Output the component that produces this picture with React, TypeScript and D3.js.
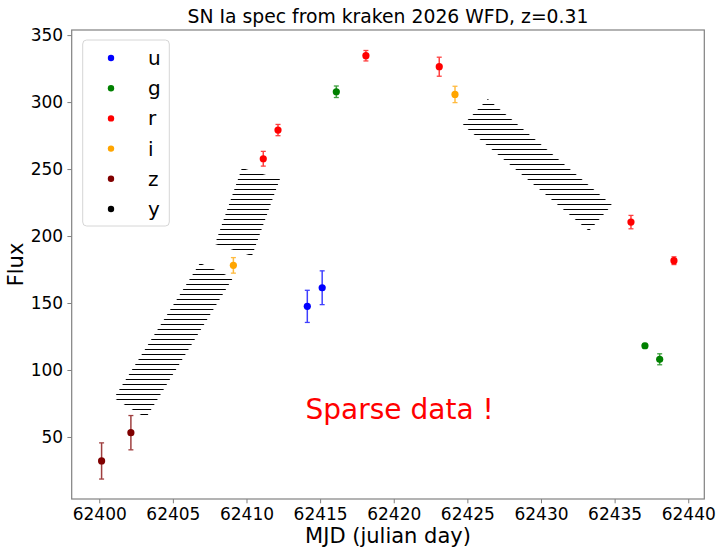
import { useEffect, useRef } from "react";
import * as d3 from "d3";

// photometry points per band (MJD, flux, 1-sigma error)
const uMjd = [62414.13, 62415.14];
const uFlux = [147.5, 161.4];
const uErr = [12.0, 12.6];

const gMjd = [62416.1, 62437.06, 62438.06];
const gFlux = [307.7, 118.1, 108.0];
const gErr = [4.3, 1.7, 4.1];

const rMjd = [62411.14, 62412.14, 62418.11, 62423.09, 62436.11, 62439.03];
const rFlux = [257.7, 279.1, 334.6, 326.4, 210.4, 181.6];
const rErr = [5.5, 4.2, 3.9, 7.1, 5.0, 2.9];

const iMjd = [62409.11, 62424.16];
const iFlux = [178.1, 305.7];
const iErr = [5.8, 6.1];

const zMjd = [62400.16, 62402.15];
const zFlux = [32.1, 53.2];
const zErr = [13.5, 12.8];

const yMjd: number[] = [];
const yFlux: number[] = [];
const yErr: number[] = [];

const bandNames = ["u", "g", "r", "i", "z", "y"];
const bandColors = ["#0000ff", "#008000", "#ff0000", "#ffa500", "#800000", "#000000"];

// hatched spectroscopy windows, vertices as [mjd, flux]
const specWindow1: [number, number][] = [
	[62406.84, 179.9],
	[62409.08, 168.7],
	[62403.17, 64.2],
	[62401.0, 79.1],
];
const specWindow2: [number, number][] = [
	[62409.69, 250.7],
	[62412.27, 242.5],
	[62410.37, 185.1],
	[62407.86, 194.0],
];
const specWindow3: [number, number][] = [
	[62426.39, 302.2],
	[62434.82, 223.1],
	[62433.26, 203.7],
	[62424.69, 282.8],
];

const xTicks = [62400, 62405, 62410, 62415, 62420, 62425, 62430, 62435, 62440];
const yTicks = [50, 100, 150, 200, 250, 300, 350];

const W = 719;
const H = 549;
const FONT = "DejaVu Sans";

export default function App() {
	const svgRef = useRef<SVGSVGElement>(null);

	useEffect(() => {
		if (!svgRef.current) return;
		const svg = d3.select(svgRef.current);
		svg.selectAll("*").remove();

		const margin = { top: 30, right: 14.7, bottom: 50, left: 71.7 };
		const x = d3
			.scaleLinear()
			.domain([62398.13, 62441.09])
			.range([margin.left, W - margin.right]);
		const y = d3
			.scaleLinear()
			.domain([3.7, 353.8])
			.range([H - margin.bottom, margin.top]);

		const defs = svg.append("defs");
		const pattern = defs
			.append("pattern")
			.attr("id", "hatch")
			.attr("patternUnits", "userSpaceOnUse")
			.attr("width", 10)
			.attr("height", 5);
		pattern
			.append("line")
			.attr("x1", 0)
			.attr("x2", 10)
			.attr("y1", 4.5)
			.attr("y2", 4.5)
			.attr("stroke", "#000")
			.attr("stroke-width", 1);

		// hatched windows
		const polyLine = d3
			.line<[number, number]>()
			.x((d) => x(d[0]))
			.y((d) => y(d[1]));
		[specWindow1, specWindow2, specWindow3].forEach((poly) => {
			svg.append("path")
				.attr("d", polyLine(poly) + "Z")
				.attr("fill", "url(#hatch)")
				.attr("stroke", "none");
		});

		// error bars + markers
		const bands = [
			{ mjd: uMjd, flux: uFlux, err: uErr },
			{ mjd: gMjd, flux: gFlux, err: gErr },
			{ mjd: rMjd, flux: rFlux, err: rErr },
			{ mjd: iMjd, flux: iFlux, err: iErr },
			{ mjd: zMjd, flux: zFlux, err: zErr },
			{ mjd: yMjd, flux: yFlux, err: yErr },
		];
		bands.forEach((b, bi) => {
			const color = bandColors[bi];
			const g = svg.append("g");
			b.mjd.forEach((m, i) => {
				const cx = x(m);
				const lo = y(b.flux[i] - b.err[i]);
				const hi = y(b.flux[i] + b.err[i]);
				const eb = g.append("g").attr("opacity", 0.75);
				eb.append("line")
					.attr("x1", cx)
					.attr("x2", cx)
					.attr("y1", lo)
					.attr("y2", hi)
					.attr("stroke", color)
					.attr("stroke-width", 1.5);
				[lo, hi].forEach((cy) => {
					eb.append("line")
						.attr("x1", cx - 2.5)
						.attr("x2", cx + 2.5)
						.attr("y1", cy)
						.attr("y2", cy)
						.attr("stroke", color)
						.attr("stroke-width", 1.3);
				});
				g.append("circle")
					.attr("cx", cx)
					.attr("cy", y(b.flux[i]))
					.attr("r", 3.6)
					.attr("fill", color);
			});
		});

		// spines
		const spineColor = "#808080";
		svg.append("rect")
			.attr("x", margin.left)
			.attr("y", margin.top)
			.attr("width", W - margin.right - margin.left)
			.attr("height", H - margin.bottom - margin.top)
			.attr("fill", "none")
			.attr("stroke", spineColor)
			.attr("stroke-width", 1.2);

		const xAxis = d3
			.axisBottom(x)
			.tickValues(xTicks)
			.tickSize(4.3)
			.tickPadding(4.3)
			.tickFormat((d) => String(d));
		svg.append("g")
			.attr("transform", `translate(0,${H - margin.bottom})`)
			.call(xAxis)
			.call((g) => g.select(".domain").remove())
			.call((g) => g.selectAll(".tick line").attr("stroke", spineColor))
			.call((g) =>
				g
					.selectAll(".tick text")
					.attr("fill", "#000")
					.attr("font-size", "17px")
					.attr("font-family", FONT)
			);

		const yAxis = d3
			.axisLeft(y)
			.tickValues(yTicks)
			.tickSize(4.3)
			.tickPadding(4.3)
			.tickFormat((d) => String(d));
		svg.append("g")
			.attr("transform", `translate(${margin.left},0)`)
			.call(yAxis)
			.call((g) => g.select(".domain").remove())
			.call((g) => g.selectAll(".tick line").attr("stroke", spineColor))
			.call((g) =>
				g
					.selectAll(".tick text")
					.attr("fill", "#000")
					.attr("font-size", "17px")
					.attr("font-family", FONT)
			);

		// labels
		const cx = (margin.left + W - margin.right) / 2;
		svg.append("text")
			.attr("x", cx)
			.attr("y", 23)
			.attr("text-anchor", "middle")
			.attr("font-family", FONT)
			.attr("font-size", "18.8px")
			.text("SN Ia spec from kraken 2026 WFD, z=0.31");
		svg.append("text")
			.attr("x", cx)
			.attr("y", 543)
			.attr("text-anchor", "middle")
			.attr("font-family", FONT)
			.attr("font-size", "21px")
			.text("MJD (julian day)");
		svg.append("text")
			.attr("transform", `translate(23,${(margin.top + H - margin.bottom) / 2}) rotate(-90)`)
			.attr("text-anchor", "middle")
			.attr("font-family", FONT)
			.attr("font-size", "21px")
			.text("Flux");

		svg.append("text")
			.attr("x", x(62420.4))
			.attr("y", y(63.4))
			.attr("text-anchor", "middle")
			.attr("font-family", FONT)
			.attr("font-size", "28px")
			.attr("fill", "#ff0000")
			.text("Sparse data !");

		// legend
		const leg = svg.append("g");
		leg.append("rect")
			.attr("x", 82.7)
			.attr("y", 40)
			.attr("width", 86.6)
			.attr("height", 186)
			.attr("rx", 4)
			.attr("fill", "#fff")
			.attr("fill-opacity", 0.8)
			.attr("stroke", "#d6d6d6")
			.attr("stroke-width", 1);
		bandNames.forEach((name, i) => {
			const ry = 58 + i * 30.2;
			leg.append("circle")
				.attr("cx", 111)
				.attr("cy", ry)
				.attr("r", 3.2)
				.attr("fill", bandColors[i]);
			leg.append("text")
				.attr("x", 148)
				.attr("y", ry + 7)
				.attr("font-family", FONT)
				.attr("font-size", "20px")
				.text(name);
		});
	}, []);

	return (
		<div style={{ position: "absolute", left: 0, top: 0, width: W, height: H, background: "#fff" }}>
			<svg ref={svgRef} width={W} height={H} />
		</div>
	);
}
